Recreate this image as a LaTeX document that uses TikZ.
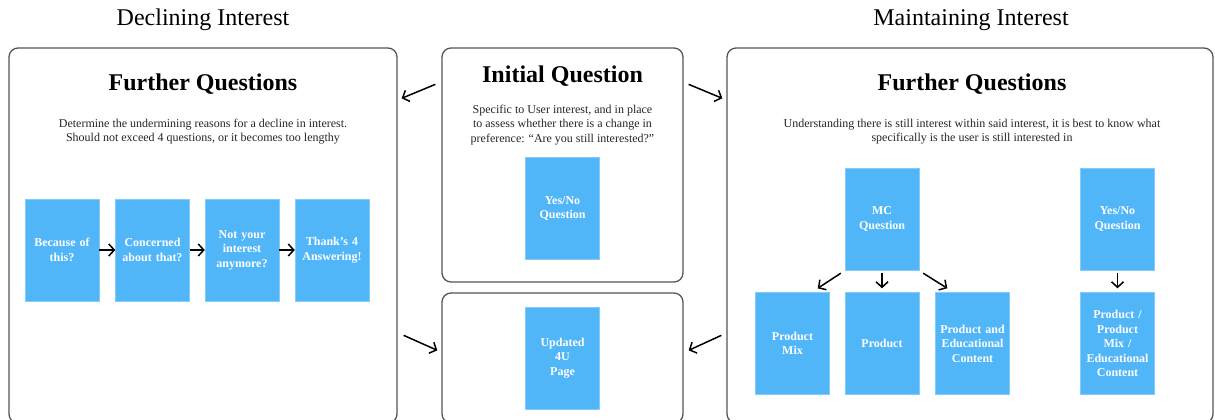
\documentclass[tikz,border=0pt]{standalone}
\usepackage{fontspec}
\setmainfont{Liberation Serif}
\usetikzlibrary{arrows.meta,calc}
\definecolor{qblue}{RGB}{80,182,248}
\definecolor{frame}{RGB}{85,85,85}
\tikzset{
  panel/.style={draw=frame, line width=1.3pt, rounded corners=9pt, rectangle, inner sep=0pt},
  qbox/.style={fill=qblue, draw=qblue!70!white, line width=0.4pt, minimum width=74pt, minimum height=102pt, inner sep=0pt,
    text=white, font=\bfseries\fontsize{12}{14.5}\selectfont, align=center, text width=73pt},
  arr/.style={-{Straight Barb[length=5.5pt,width=12pt]}, line width=1.5pt, black},
  ptitle/.style={font=\bfseries\fontsize{24}{28}\selectfont},
  pdesc/.style={font=\fontsize{12}{14.5}\selectfont, align=center, text=black!85},
  head/.style={font=\fontsize{24}{28}\selectfont}
}
\begin{document}
\begin{tikzpicture}[x=1pt,y=-1pt]
\clip (0,0) rectangle (1215,420);
\fill[white] (0,0) rectangle (1215,420);
% headers
\node[head] (hdl) at (203,20) {Declining Interest};
\node[head] (hmi) at (971,20) {Maintaining Interest};
% panels
\node[panel, minimum width=388pt, minimum height=375pt] (left) at (203,235.5) {};
\node[panel, minimum width=241pt, minimum height=234pt] (init) at (562.5,165) {};
\node[panel, minimum width=241pt, minimum height=130pt] (upd) at (562.5,358) {};
\node[panel, minimum width=486pt, minimum height=375pt] (right) at (970,235.5) {};
% left panel
\node[ptitle] (lt) at (203,84) {Further Questions};
\node[pdesc] (ld) at (203,131.5) {Determine the undermining reasons for a decline in interest.\\Should not exceed 4 questions, or it becomes too lengthy};
\node[qbox] (b1) at (62,250) {Because of\\this?};
\node[qbox] (b2) at (152.5,250) {Concerned\\about that?};
\node[qbox] (b3) at (242,250) {Not your\\interest\\anymore?};
\node[qbox] (b4) at (332,250) {Thank’s 4\\Answering!};
\draw[arr] (b1) -- (b2);
\draw[arr] (b2) -- (b3);
\draw[arr] (b3) -- (b4);
% middle
\node[ptitle] (it) at (562.5,76) {Initial Question};
\node[pdesc] (id) at (562.5,125) {Specific to User interest, and in place\\to assess whether there is a change in\\preference: “Are you still interested?”};
\node[qbox] (yn1) at (562.5,208.5) {Yes/No\\Question};
\node[qbox] (u4) at (562.5,358) {Updated\\4U\\Page\\[4pt]};
% right panel
\node[ptitle] (rt) at (972,84) {Further Questions};
\node[pdesc] (rd) at (972,131.5) {Understanding there is still interest within said interest, it is best to know what\\specifically is the user is still interested in};
\node[qbox] (mc) at (882,219) {MC\\Question};
\node[qbox] (yn2) at (1117.5,219) {Yes/No\\Question};
\node[qbox] (pm) at (792.5,343.5) {Product\\Mix};
\node[qbox] (pr) at (882,343.5) {Product};
\node[qbox] (pe) at (972.5,343.5) {Product and\\Educational\\Content};
\node[qbox] (pa) at (1117.5,343.5) {Product /\\Product\\Mix /\\Educational\\Content};
\draw[arr] ($(mc.south west)+(-4,3)$) -- ($(pm.north east)+(-12,-4)$);
\draw[arr] ($(mc.south)+(0,3)$) -- ($(pr.north)+(0,-4)$);
\draw[arr] ($(mc.south east)+(4,3)$) -- ($(pe.north west)+(12,-4)$);
\draw[arr] ($(yn2.south)+(0,3)$) -- ($(pa.north)+(0,-4)$);
% between panels
\draw[arr] ($(init.north west)+(-6,37)$) -- ($(left.north east)+(4,51)$);
\draw[arr] ($(init.north east)+(5,37)$) -- ($(right.north west)+(-4,51)$);
\draw[arr] ($(left.north east)+(6,288)$) -- ($(upd.north west)+(-4,58)$);
\draw[arr] ($(right.north west)+(-5,288)$) -- ($(upd.north east)+(5,58)$);
\end{tikzpicture}
\end{document}
